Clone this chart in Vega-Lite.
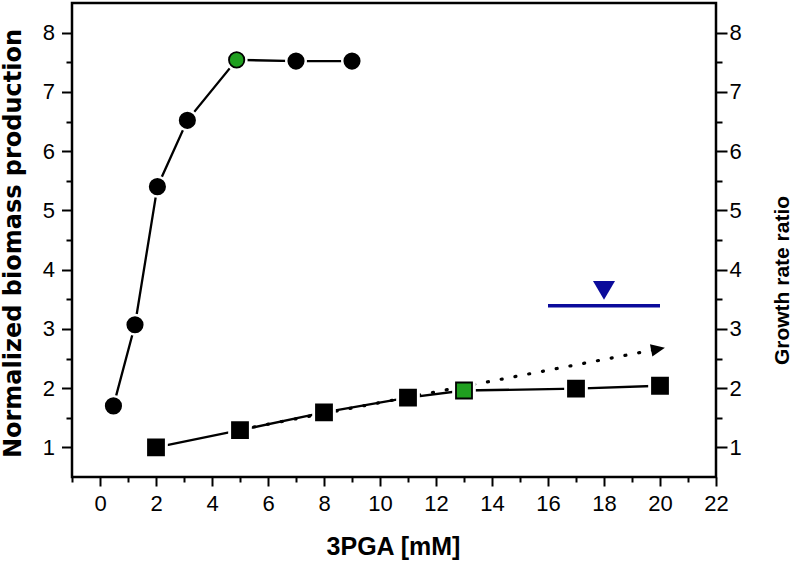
{
  "$schema": "https://vega.github.io/schema/vega-lite/v6.json",
  "width": 644,
  "height": 474,
  "autosize": "none",
  "padding": {"left": 72, "top": 3, "right": 75, "bottom": 86},
  "background": "white",
  "config": {
    "view": {"stroke": "black", "strokeWidth": 2.5},
    "font": "Liberation Sans",
    "axis": {
      "domain": false,
      "grid": false,
      "tickColor": "black",
      "tickWidth": 2,
      "labelColor": "black",
      "labelFont": "Liberation Sans",
      "labelFontSize": 22,
      "titleColor": "black",
      "labelFlush": false,
      "labelOverlap": false,
      "labelBound": false
    }
  },
  "datasets": {
    "biomass": [
      {"pga": 0.48, "value": 1.70, "highlight": false},
      {"pga": 1.25, "value": 3.07, "highlight": false},
      {"pga": 2.05, "value": 5.40, "highlight": false},
      {"pga": 3.12, "value": 6.52, "highlight": false},
      {"pga": 4.88, "value": 7.54, "highlight": true},
      {"pga": 7.0, "value": 7.52, "highlight": false},
      {"pga": 9.0, "value": 7.52, "highlight": false}
    ],
    "growth": [
      {"pga": 2, "value": 1.00, "highlight": false},
      {"pga": 5, "value": 1.29, "highlight": false},
      {"pga": 8, "value": 1.59, "highlight": false},
      {"pga": 11, "value": 1.84, "highlight": false},
      {"pga": 13, "value": 1.96, "highlight": true},
      {"pga": 17, "value": 1.99, "highlight": false},
      {"pga": 20, "value": 2.04, "highlight": false}
    ],
    "trend": [
      {"pga": 5, "value": 1.30},
      {"pga": 19.93, "value": 2.66}
    ],
    "arrowhead": [{"pga": 19.93, "value": 2.66}],
    "threshold": [{"start": 16, "end": 20, "value": 3.39}],
    "marker": [{"pga": 18, "value": 3.65}]
  },
  "resolve": {"axis": {"x": "independent", "y": "independent"}},
  "layer": [
    {
      "data": {"name": "trend"},
      "mark": {"type": "line", "color": "black", "strokeWidth": 3.2, "strokeDash": [1, 13], "strokeCap": "round"},
      "encoding": {
        "x": {"field": "pga", "type": "quantitative", "scale": {"domain": [-1, 22], "nice": false, "zero": false},
          "axis": {"orient": "bottom", "values": [0, 2, 4, 6, 8, 10, 12, 14, 16, 18, 20, 22], "tickSize": 9, "labelPadding": 7,
            "title": "3PGA [mM]", "titleFont": "Liberation Sans", "titleFontSize": 25, "titleFontWeight": "bold",
            "titleX": 321, "titleY": 77, "titleBaseline": "alphabetic", "titleAlign": "center"}},
        "y": {"field": "value", "type": "quantitative", "scale": {"domain": [0.5, 8.5], "nice": false, "zero": false},
          "axis": {"orient": "left", "values": [1, 2, 3, 4, 5, 6, 7, 8], "tickSize": 10.5, "labelPadding": 7,
            "title": "Normalized biomass production", "titleFont": "DejaVu Sans", "titleFontSize": 24, "titleFontWeight": "bold",
            "titleAngle": 270, "titleX": -52, "titleY": 240, "titleBaseline": "alphabetic", "titleAlign": "center"}}
      }
    },
    {
      "data": {"name": "biomass"},
      "mark": {"type": "line", "color": "black", "strokeWidth": 2.3},
      "encoding": {
        "x": {"field": "pga", "type": "quantitative", "scale": {"domain": [-1, 22], "nice": false, "zero": false},
          "axis": {"orient": "bottom", "values": [-1, 1, 3, 5, 7, 9, 11, 13, 15, 17, 19, 21], "labels": false, "tickSize": 5, "title": null}},
        "y": {"field": "value", "type": "quantitative", "scale": {"domain": [0.5, 8.5], "nice": false, "zero": false},
          "axis": {"orient": "left", "values": [1.5, 2.5, 3.5, 4.5, 5.5, 6.5, 7.5], "labels": false, "tickSize": 6, "title": null}}
      }
    },
    {
      "data": {"name": "growth"},
      "mark": {"type": "line", "color": "black", "strokeWidth": 2.3},
      "encoding": {
        "x": {"field": "pga", "type": "quantitative", "scale": {"domain": [-1, 22], "nice": false, "zero": false}, "axis": null},
        "y": {"field": "value", "type": "quantitative", "scale": {"domain": [0.5, 8.5], "nice": false, "zero": false},
          "axis": {"orient": "right", "values": [1.5, 2.5, 3.5, 4.5, 5.5, 6.5, 7.5], "labels": false, "tickSize": 6, "title": null}}
      }
    },
    {
      "data": {"name": "biomass"},
      "mark": {"type": "point", "shape": "circle", "filled": true, "color": "white", "size": 480, "opacity": 1},
      "encoding": {
        "x": {"field": "pga", "type": "quantitative", "scale": {"domain": [-1, 22], "nice": false, "zero": false}, "axis": null},
        "y": {"field": "value", "type": "quantitative", "scale": {"domain": [0.5, 8.5], "nice": false, "zero": false}, "axis": null}
      }
    },
    {
      "data": {"name": "growth"},
      "mark": {"type": "point", "shape": "square", "filled": true, "color": "white", "size": 560, "opacity": 1},
      "encoding": {
        "x": {"field": "pga", "type": "quantitative", "scale": {"domain": [-1, 22], "nice": false, "zero": false}, "axis": null},
        "y": {"field": "value", "type": "quantitative", "scale": {"domain": [0.5, 8.5], "nice": false, "zero": false}, "axis": null}
      }
    },
    {
      "data": {"name": "biomass"},
      "mark": {"type": "point", "shape": "circle", "filled": true, "size": 235, "stroke": "black", "strokeWidth": 1.8, "opacity": 1},
      "encoding": {
        "x": {"field": "pga", "type": "quantitative", "scale": {"domain": [-1, 22], "nice": false, "zero": false}, "axis": null},
        "y": {"field": "value", "type": "quantitative", "scale": {"domain": [0.5, 8.5], "nice": false, "zero": false}, "axis": null},
        "fill": {"condition": {"test": "datum.highlight", "value": "#1f9f1f"}, "value": "black"}
      }
    },
    {
      "data": {"name": "growth"},
      "mark": {"type": "point", "shape": "square", "filled": true, "size": 256, "stroke": "black", "strokeWidth": 1.8, "opacity": 1},
      "encoding": {
        "x": {"field": "pga", "type": "quantitative", "scale": {"domain": [-1, 22], "nice": false, "zero": false}, "axis": null},
        "y": {"field": "value", "type": "quantitative", "scale": {"domain": [0.5, 8.5], "nice": false, "zero": false}, "axis": null},
        "fill": {"condition": {"test": "datum.highlight", "value": "#1f9f1f"}, "value": "black"}
      }
    },
    {
      "data": {"name": "arrowhead"},
      "mark": {"type": "point", "shape": "M-1,-0.9L1,0L-1,0.9Z", "filled": true, "color": "black", "size": 196, "angle": 349, "opacity": 1},
      "encoding": {
        "x": {"field": "pga", "type": "quantitative", "scale": {"domain": [-1, 22], "nice": false, "zero": false}, "axis": null},
        "y": {"field": "value", "type": "quantitative", "scale": {"domain": [0.5, 8.5], "nice": false, "zero": false}, "axis": null}
      }
    },
    {
      "data": {"name": "threshold"},
      "mark": {"type": "rule", "color": "#0b0b9b", "strokeWidth": 3.3},
      "encoding": {
        "x": {"field": "start", "type": "quantitative", "scale": {"domain": [-1, 22], "nice": false, "zero": false}, "axis": null},
        "x2": {"field": "end"},
        "y": {"field": "value", "type": "quantitative", "scale": {"domain": [0.5, 8.5], "nice": false, "zero": false}, "axis": null}
      }
    },
    {
      "data": {"name": "marker"},
      "mark": {"type": "point", "shape": "M-1,-0.85L1,-0.85L0,0.85Z", "filled": true, "color": "#0b0b9b", "size": 484, "opacity": 1},
      "encoding": {
        "x": {"field": "pga", "type": "quantitative", "scale": {"domain": [-1, 22], "nice": false, "zero": false}, "axis": null},
        "y": {"field": "value", "type": "quantitative", "scale": {"domain": [0.5, 8.5], "nice": false, "zero": false},
          "axis": {"orient": "right", "values": [1, 2, 3, 4, 5, 6, 7, 8], "tickSize": 11, "labelPadding": 2,
            "title": "Growth rate ratio", "titleFont": "Liberation Sans", "titleFontSize": 21, "titleFontWeight": "bold",
            "titleAngle": 270, "titleX": 72, "titleY": 277, "titleBaseline": "alphabetic", "titleAlign": "center"}}
      }
    }
  ]
}
